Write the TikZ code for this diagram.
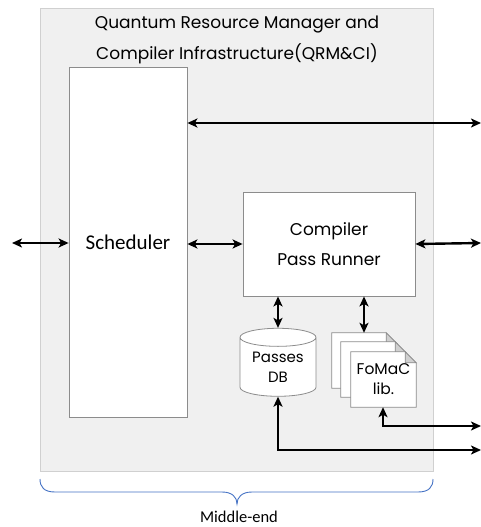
\documentclass[tikz,border=0pt]{standalone}
\usepackage{fontspec}
\setmainfont{Carlito}
\newfontfamily\geofont{Poppins}
\usetikzlibrary{arrows.meta,shapes.geometric}
\definecolor{panelgrey}{HTML}{F0F0F0}
\definecolor{panelline}{HTML}{D0D0D0}
\definecolor{boxline}{HTML}{8C8C8C}
\definecolor{braceblue}{HTML}{4472C4}
\tikzset{
  panel/.style={draw=panelline, fill=panelgrey, line width=0.8pt},
  whitebox/.style={draw=boxline, fill=white, line width=0.8pt, inner sep=0pt},
  conn/.style={line width=2.4pt, {Stealth[length=10pt,width=9pt,inset=2.5pt]}-{Stealth[length=10pt,width=9pt,inset=2.5pt]}},
  pagebox/.style={draw=none, minimum width=65pt, minimum height=55pt, inner sep=0pt},
  pageline/.style={draw=boxline, fill=white, line width=0.8pt},
}
\begin{document}
\begin{tikzpicture}[x=1pt,y=-1pt]
\useasboundingbox (0,0) rectangle (481,527);
% outer panel
\draw[panel] (40,8) rectangle (433,471);
\node[font=\geofont\fontsize{17}{31}\selectfont, align=center] (title) at (237,40)
  {Quantum Resource Manager and\\Compiler Infrastructure(QRM\&CI)};
% scheduler
\node[whitebox, minimum width=118pt, minimum height=350pt, font=\fontsize{21}{24}\selectfont] (sched) at (128,242) {Scheduler};
% compiler pass runner
\node[whitebox, minimum width=172pt, minimum height=104pt, align=center, font=\geofont\fontsize{17}{30}\selectfont] (cpr) at (329,244) {Compiler\\Pass Runner};
% passes DB
\node[shape=cylinder, shape border rotate=90, aspect=0.35, draw=boxline, fill=white, line width=0.8pt,
  minimum width=76pt, minimum height=68pt, inner sep=0pt, align=center,
  font=\geofont\fontsize{15}{20}\selectfont] (db) at (278,367) {Passes\\DB};
% pages
\node[pagebox] (p1) at (364.5,360.5) {};
\node[pagebox] (p2) at (373.5,369.5) {};
\node[pagebox] (p3) at (383.5,379.5) {};
\foreach \p in {p1,p2,p3}{
  \draw[pageline] (\p.north west) -- ([xshift=-11pt]\p.north east) -- ([yshift=-11pt]\p.north east) -- (\p.south east) -- (\p.south west) -- cycle;
  \draw[pageline, fill=panelline] ([xshift=-11pt]\p.north east) -- ([xshift=-11pt,yshift=-11pt]\p.north east) -- ([yshift=-11pt]\p.north east) -- cycle;
}
\node[align=center, font=\geofont\fontsize{15.5}{20}\selectfont] (fomac) at (p3) {FoMaC\\lib.};
% free ends
\coordinate (topR) at (481,123);
\coordinate (left) at (12,243);
\coordinate (midR) at (481,243);
\coordinate (fomR) at (481,426);
\coordinate (dbR) at (481,450);
% connectors
\draw[conn] (sched.east |- topR) -- (topR);
\draw[conn] (left) -- (sched.west |- left);
\draw[conn] (sched.east |- cpr.west) -- (cpr.west);
\draw[conn] (cpr.east) -- (midR);
\draw[conn] (db.north |- cpr.south) -- (db.north);
\draw[conn] (364,0 |- cpr.south) -- (364,0 |- p1.north);
\draw[conn] (383,0 |- p3.south) -- (383,426) -- (fomR);
\draw[conn] (db.south) -- (278,450) -- (dbR);
% brace
\draw[braceblue, line width=0.9pt] (40,479) .. controls (40,487) and (44,492) .. (55,492) -- (222,492)
  .. controls (232,492) and (237,497) .. (237,504)
  .. controls (237,497) and (242,492) .. (252,492) -- (418,492)
  .. controls (429,492) and (433,487) .. (433,479);
\node[font=\fontsize{16.5}{18}\selectfont] (mid) at (239,517) {Middle-end};
\end{tikzpicture}
\end{document}
